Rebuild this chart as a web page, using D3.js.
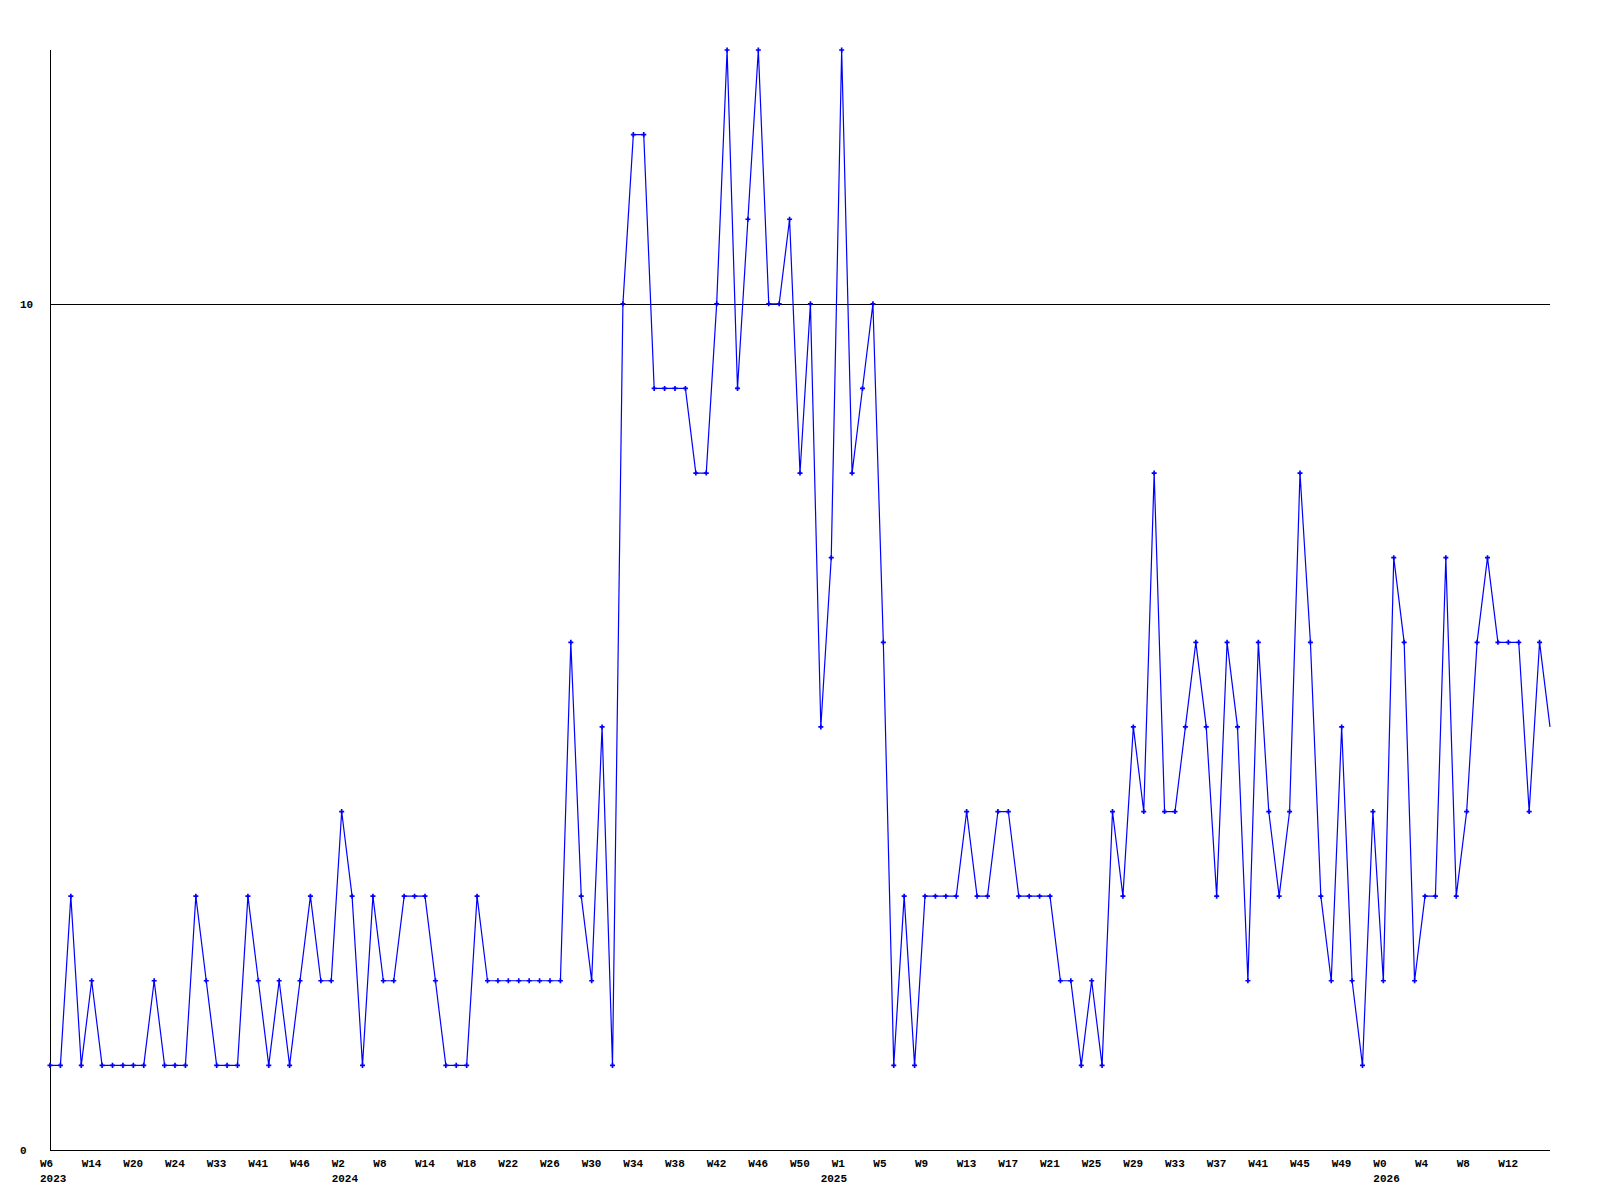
<!DOCTYPE html>
<html>
<head>
<meta charset="utf-8">
<script src="https://cdn.jsdelivr.net/npm/d3@7"></script>
<style>
  html, body { margin: 0; padding: 0; background: #fff; }
  svg { display: block; }
  text { font-family: "Liberation Mono", "DejaVu Sans Mono", monospace; font-weight: bold; font-size: 11px; fill: #000; }
</style>
</head>
<body>
<svg id="chart" width="1600" height="1200"></svg>
<script>
// ---- data ----
const values = [
  1,1,3,1,2,1,1,1,1,1,2,1,1,1,3,2,1,1,1,3,2,
  1,2,1,2,3,2,2,4,3,1,3,2,2,3,3,3,2,1,1,1,3,
  2,2,2,2,2,2,2,2,6,3,2,5,1,10,12,12,9,9,9,9,8,
  8,10,13,9,11,13,10,10,11,8,10,5,7,13,8,9,10,6,1,3,1,
  3,3,3,3,4,3,3,4,4,3,3,3,3,2,2,1,2,1,4,3,
  5,4,8,4,4,5,6,5,3,6,5,2,6,4,3,4,8,6,3,2,
  5,2,1,4,2,7,6,2,3,3,7,3,4,6,7,6,6,6,4,6,5
];
const weekLabels = ["W6","W14","W20","W24","W33","W41","W46","W2","W8","W14","W18","W22",
  "W26","W30","W34","W38","W42","W46","W50","W1","W5","W9","W13","W17","W21",
  "W25","W29","W33","W37","W41","W45","W49","W0","W4","W8","W12"];
const weekLabelStep = 4;
const yearLabels = ["2023","2024","2025","2026"];
const yearLabelIndex = [0, 28, 76, 128];
const yTicks = [0, 10];
const yMax = 13;

// ---- layout ----
const svg = d3.select("#chart");
const mLeft = 50, mRight = 1550, mTop = 50, mBottom = 1150;

const x = d3.scaleLinear().domain([0, values.length - 1]).range([mLeft, mRight]);
const y = d3.scaleLinear().domain([0, yMax]).range([mBottom, mTop]);

svg.append("rect").attr("width", 1600).attr("height", 1200).attr("fill", "#fff");

// gridline at 10
svg.append("g").selectAll("line").data(yTicks.filter(d => d > 0)).join("line")
  .attr("x1", mLeft).attr("x2", mRight)
  .attr("y1", d => Math.round(y(d)) + 0.5).attr("y2", d => Math.round(y(d)) + 0.5)
  .attr("stroke", "#000").attr("stroke-width", 1).attr("shape-rendering", "crispEdges");

// axes lines
svg.append("line").attr("x1", mLeft + 0.5).attr("x2", mLeft + 0.5).attr("y1", mTop).attr("y2", mBottom)
  .attr("stroke", "#000").attr("shape-rendering", "crispEdges");
svg.append("line").attr("x1", mLeft).attr("x2", mRight).attr("y1", mBottom + 0.5).attr("y2", mBottom + 0.5)
  .attr("stroke", "#000").attr("shape-rendering", "crispEdges");

// y labels
svg.append("g").selectAll("text").data(yTicks).join("text")
  .attr("x", 20).attr("y", d => y(d) + 4).text(d => d);

// x labels
svg.append("g").selectAll("text").data(weekLabels).join("text")
  .attr("x", (d, i) => x(i * weekLabelStep) - 10).attr("y", 1167).text(d => d);

svg.append("g").selectAll("text").data(yearLabels).join("text")
  .attr("x", (d, i) => x(yearLabelIndex[i]) - (d === "2025" ? 21 : 10))
  .attr("y", 1182).text(d => d);

// line
const line = d3.line().x((d, i) => x(i)).y(d => y(d));
svg.append("path").datum(values).attr("d", line)
  .attr("fill", "none").attr("stroke", "#0000ff").attr("stroke-width", 1.2);

// markers (all but last)
svg.append("g").selectAll("path").data(values.slice(0, values.length - 1)).join("path")
  .attr("transform", (d, i) => `translate(${x(i)},${y(d)})`)
  .attr("d", d3.symbol(d3.symbolCross, 14))
  .attr("fill", "#0000ff");
</script>
</body>
</html>
